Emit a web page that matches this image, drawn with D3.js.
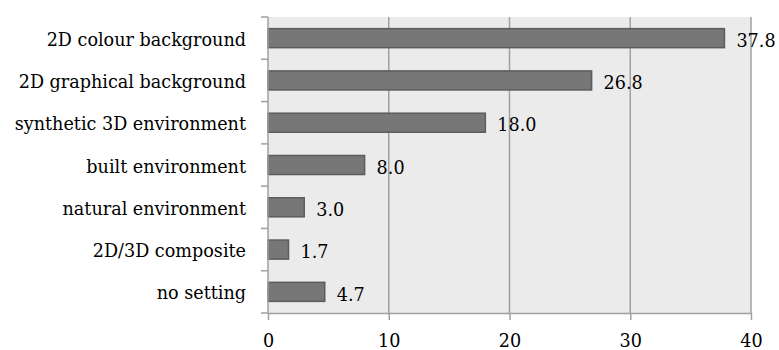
<!DOCTYPE html>
<html>
<head>
<meta charset="utf-8">
<script src="https://cdn.jsdelivr.net/npm/d3@7"></script>
<style>
  body { margin: 0; background: #fff; }
  svg text { font-family: "DejaVu Serif", "Liberation Serif", serif; fill: #000; }
</style>
</head>
<body>
<svg id="chart" width="779" height="350"></svg>
<script>
const categories = [
  "2D colour background",
  "2D graphical background",
  "synthetic 3D environment",
  "built environment",
  "natural environment",
  "2D/3D composite",
  "no setting"
];
const values = [37.8, 26.8, 18.0, 8.0, 3.0, 1.7, 4.7];
const xTicks = [0, 10, 20, 30, 40];

const FONT = 17.6;
const svg = d3.select("#chart");
const margin = { left: 268, right: 28, top: 17, bottom: 37 };
const W = 779, H = 350;
const innerW = W - margin.left - margin.right;
const innerH = H - margin.top - margin.bottom;

const g = svg.append("g").attr("transform", `translate(${margin.left},${margin.top})`);

const x = d3.scaleLinear().domain([0, 40]).range([0, innerW]);
const y = d3.scaleBand().domain(categories).range([0, innerH]).paddingInner(0.55).paddingOuter(0.275);

// plot background
g.append("rect").attr("width", innerW).attr("height", innerH).attr("fill", "#ebebeb");

// vertical gridlines
g.selectAll(".grid").data(xTicks.slice(1)).enter().append("line")
  .attr("x1", d => x(d)).attr("x2", d => x(d))
  .attr("y1", 0).attr("y2", innerH)
  .attr("stroke", "#a0a0a0").attr("stroke-width", 1.5);

// bars
g.selectAll(".bar").data(values).enter().append("rect")
  .attr("x", 0)
  .attr("y", (d, i) => y(categories[i]))
  .attr("width", d => x(d))
  .attr("height", y.bandwidth())
  .attr("fill", "#777777")
  .attr("stroke", "#5c5c5c").attr("stroke-width", 1.5);

// value labels
g.selectAll(".val").data(values).enter().append("text")
  .attr("x", d => x(d) + 12)
  .attr("y", (d, i) => y(categories[i]) + y.bandwidth() / 2 + 2)
  .attr("dy", "0.38em")
  .attr("font-size", FONT)
  .text(d => d.toFixed(1));

// y axis
const yAxisG = g.append("g").call(
  d3.axisLeft(d3.scaleBand().domain(categories).range([0, innerH]))
    .tickSize(0).tickPadding(22)
);
yAxisG.select(".domain").remove();
yAxisG.selectAll("text").attr("font-size", FONT).attr("font-family", "DejaVu Serif")
  .attr("dy", "0.32em").attr("y", 2);

// y axis line and band-boundary ticks
const bounds = d3.range(categories.length + 1).map(i => i * innerH / categories.length);
g.append("line").attr("x1", 0).attr("x2", 0).attr("y1", 0).attr("y2", innerH)
  .attr("stroke", "#a0a0a0").attr("stroke-width", 1.5);
g.selectAll(".ytick").data(bounds).enter().append("line")
  .attr("x1", -7).attr("x2", 0).attr("y1", d => d).attr("y2", d => d)
  .attr("stroke", "#a0a0a0").attr("stroke-width", 1.5);

// x axis
const xAxisG = g.append("g").attr("transform", `translate(0,${innerH})`)
  .call(d3.axisBottom(x).tickValues(xTicks).tickSize(7).tickPadding(15).tickSizeOuter(0));
xAxisG.select(".domain").attr("stroke", "#a0a0a0").attr("stroke-width", 1.5);
xAxisG.selectAll(".tick line").attr("stroke", "#a0a0a0").attr("stroke-width", 1.5);
xAxisG.selectAll("text").attr("font-size", FONT).attr("font-family", "DejaVu Serif");
</script>
</body>
</html>
